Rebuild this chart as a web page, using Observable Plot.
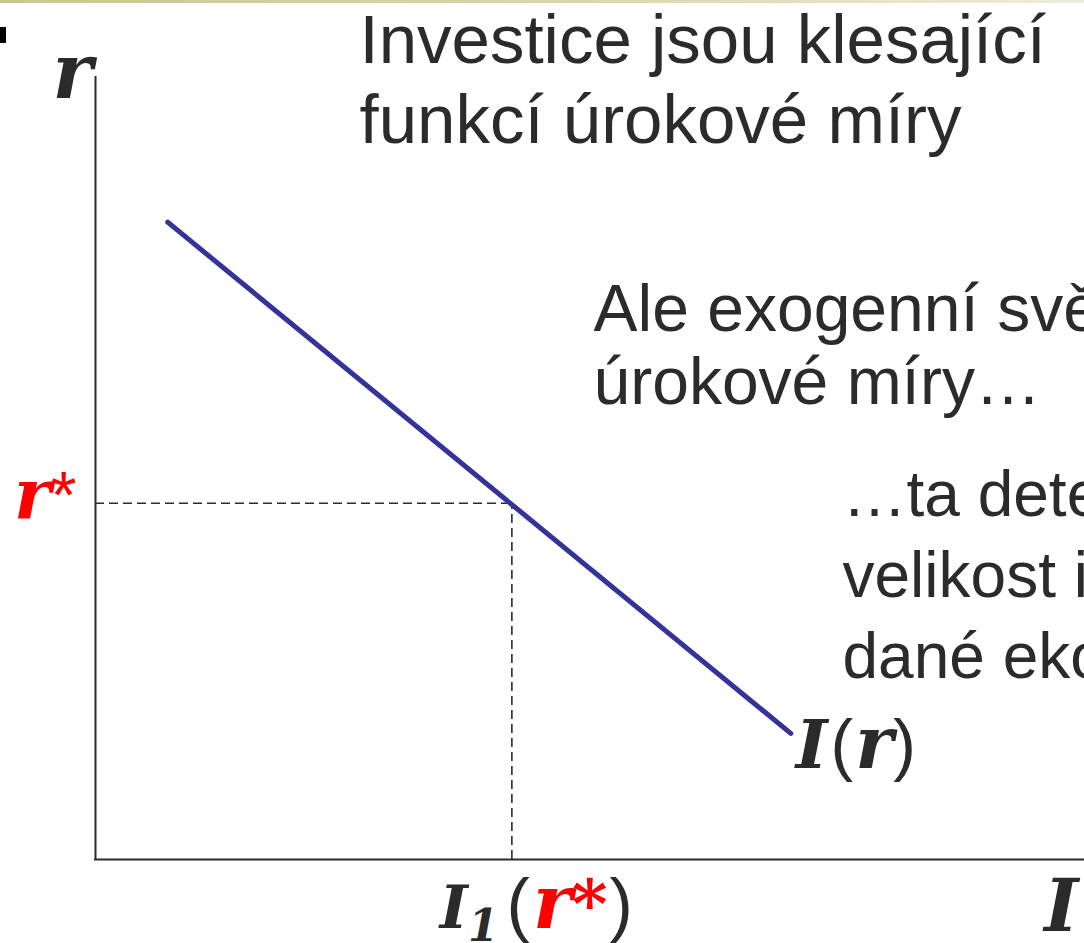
<!DOCTYPE html>
<html>
<head>
<meta charset="utf-8">
<script src="https://cdn.jsdelivr.net/npm/d3@7"></script>
<script src="https://cdn.jsdelivr.net/npm/@observablehq/plot@0.6"></script>
<style>
  html, body { margin: 0; padding: 0; background: #fff; overflow: hidden; }
  #wrap { position: relative; width: 1084px; height: 943px; overflow: hidden; }
  #band { position: absolute; left: 0; top: 0; width: 1084px; height: 3px; z-index: 2;
          background: linear-gradient(to right, #c8c88e, #d8d8ad 55%, #ececdc); }
  #bullet { position: absolute; left: 0; top: 27px; width: 6px; height: 16px; background: #000; z-index: 2; }
</style>
</head>
<body>
<div id="wrap"><div id="band"></div><div id="bullet"></div></div>
<script>
// Investment schedule I(r): end points of the downward-sloping line
const investment = [0.73, 7.03];
const interestRate = [8.14, 1.61];

// Exogenous interest rate r* and the investment level it pins down
const rStar = [4.55];
const iAtRStar = [4.21];

// Slide text
const titleLines = ["Investice jsou klesající", "funkcí úrokové míry"];
const noteExogenous = ["Ale exogenní světové", "úrokové míry…"];
const noteDetermines = ["…ta determinuje", "velikost investic", "dané ekonomiky"];

const dark = "#2b2b2b", red = "#ff0000", blue = "#333399";
const symFont = "'DejaVu Serif', serif";
const textFont = "'Liberation Sans', Arial, sans-serif";

const schedule = investment.map((I, i) => ({I, r: interestRate[i]}));

const symText = {fontFamily: symFont, fontWeight: "bold", fontStyle: "italic", fill: dark};

const chart = Plot.plot({
  width: 1084,
  height: 943,
  marginLeft: 95,
  marginRight: 0,
  marginTop: 76,
  marginBottom: 84,
  x: {domain: [0, 10], axis: null},
  y: {domain: [0, 10], axis: null},
  style: {fontFamily: textFont, color: dark, background: "white", overflow: "hidden"},
  marks: [
    // guide lines from the axes to the point (I1, r*)
    Plot.ruleY(rStar, {y: d => d, x1: 0, x2: iAtRStar[0], stroke: dark, strokeWidth: 1.6, strokeDasharray: "9,5"}),
    Plot.ruleX(iAtRStar, {x: d => d, y1: 0, y2: rStar[0], stroke: dark, strokeWidth: 1.6, strokeDasharray: "9,5"}),
    // axes
    Plot.ruleX([0], {stroke: dark, strokeWidth: 2}),
    Plot.ruleY([0], {stroke: dark, strokeWidth: 2, strokeLinecap: "square"}),
    // investment schedule
    Plot.line(schedule, {x: "I", y: "r", stroke: blue, strokeWidth: 5}),
    // axis names
    Plot.text(["r"], {text: d => d, frameAnchor: "top-left", textAnchor: "end", lineAnchor: "bottom",
      dx: -3, dy: 21, fontSize: 76, ...symText}),
    Plot.text(["I"], {text: d => d, frameAnchor: "bottom-right", textAnchor: "end", lineAnchor: "bottom",
      dx: -6, dy: 71, fontSize: 73, ...symText}),
    // point labels
    Plot.text(rStar, {y: d => d, text: () => "r*", frameAnchor: "left", textAnchor: "end", lineAnchor: "bottom",
      dx: -19, dy: 15, fontSize: 70, fill: red}),
    Plot.text(iAtRStar, {x: d => d, text: () => "I1(r*)", frameAnchor: "bottom", textAnchor: "start", lineAnchor: "bottom",
      dx: -72, dy: 68, fontSize: 62, fill: dark}),
    Plot.text([schedule[schedule.length - 1]], {x: "I", y: "r", text: () => "I(r)", textAnchor: "start", lineAnchor: "bottom",
      dx: 5, dy: 35, fontSize: 66, fill: dark}),
    // explanatory text
    Plot.text([titleLines.join("\n")], {text: d => d, frameAnchor: "top-left", textAnchor: "start", lineAnchor: "bottom",
      dx: 264, dy: 66, lineHeight: 1.159, fontSize: 69, fill: dark}),
    Plot.text([noteExogenous.join("\n")], {text: d => d, frameAnchor: "top-left", textAnchor: "start", lineAnchor: "bottom",
      dx: 498, dy: 327, lineHeight: 1.106, fontSize: 66, fill: dark}),
    Plot.text([noteDetermines.join("\n")], {text: d => d, frameAnchor: "top-left", textAnchor: "start", lineAnchor: "bottom",
      dx: 747, dy: 601, lineHeight: 1.258, fontSize: 64, fill: dark})
  ]
});

// Mixed-style labels: math symbols in bold italic serif, brackets upright
const kinds = {
  sym: {"font-family": symFont, "font-weight": "bold", "font-style": "italic"},
  plain: {"font-family": textFont, "font-weight": "normal", "font-style": "normal"}
};
function richLabel(svg, key, parts) {
  for (const t of svg.querySelectorAll("text")) {
    if (t.textContent !== key) continue;
    t.textContent = "";
    let shift = 0;
    for (const p of parts) {
      const s = document.createElementNS("http://www.w3.org/2000/svg", "tspan");
      for (const [k, v] of Object.entries(kinds[p.kind])) s.setAttribute(k, v);
      s.setAttribute("font-size", p.size);
      if (p.fill) s.setAttribute("fill", p.fill);
      const dy = (p.shift || 0) - shift;
      if (dy) s.setAttribute("dy", dy);
      if (p.gap) s.setAttribute("dx", p.gap);
      shift = p.shift || 0;
      s.textContent = p.text;
      t.appendChild(s);
    }
  }
}
richLabel(chart, "r*", [
  {text: "r", kind: "sym", size: 70, fill: red},
  {text: "*", kind: "plain", size: 66, fill: red}
]);
richLabel(chart, "I1(r*)", [
  {text: "I", kind: "sym", size: 60},
  {text: "1", kind: "sym", size: 44, shift: 13},
  {text: "(", kind: "plain", size: 70, gap: 8},
  {text: "r", kind: "sym", size: 74, fill: red, gap: 3},
  {text: "*", kind: "sym", size: 68, fill: red},
  {text: ")", kind: "plain", size: 70, gap: 2}
]);
richLabel(chart, "I(r)", [
  {text: "I", kind: "sym", size: 68},
  {text: "(", kind: "plain", size: 68, gap: 3},
  {text: "r", kind: "sym", size: 72, gap: 2},
  {text: ")", kind: "plain", size: 68}
]);

document.getElementById("wrap").appendChild(chart);
</script>
</body>
</html>
